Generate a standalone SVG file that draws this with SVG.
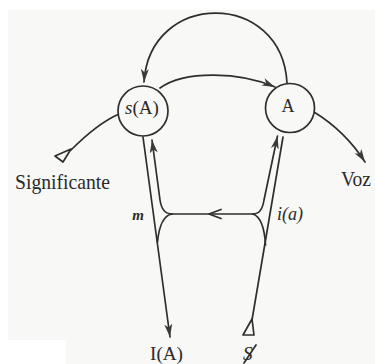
<svg xmlns="http://www.w3.org/2000/svg" width="375" height="364" viewBox="0 0 375 364">
  <style>
    .ln { fill: none; stroke: #2e2e2e; stroke-width: 1.7; stroke-linecap: round; stroke-linejoin: round; }
    .nd { fill: #f8f8f6; stroke: #2e2e2e; stroke-width: 1.7; }
    .tx { font-family: "Liberation Serif", "Times New Roman", serif; fill: #2a2a2a; }
    .open { fill: #f8f8f6; stroke: #2e2e2e; stroke-width: 1.7; stroke-linejoin: round; }
  </style>
  <defs>
    <marker id="arr" markerUnits="userSpaceOnUse" markerWidth="14" markerHeight="10" refX="13" refY="4.5" orient="auto-start-reverse" viewBox="0 0 14 10">
      <path d="M0,0.5 L13,4.5 L0,8.5 L3.5,4.5 Z" fill="#3a3a3a"/>
    </marker>
  </defs>
  <rect x="0" y="0" width="375" height="364" fill="#ffffff"/>
  <rect x="8" y="10" width="367" height="354" fill="#f8f8f6"/>
  <rect x="0" y="340" width="66" height="24" fill="#ffffff"/>

  <g id="connectors">
    <path class="ln" d="M287,83 C282,-10 150,-10 144,82" marker-end="url(#arr)"/>
    <path class="ln" d="M160,88 C185,70 240,72 275,87" marker-end="url(#arr)"/>
    <path class="ln" d="M71,150 C88,133 103,121 119,114"/>
    <polygon class="open" points="71,149 55,156 63,162"/>
    <path class="ln" d="M314,112 C327,120 347,134 365,162" marker-end="url(#arr)"/>
    <path class="ln" d="M143,137 L170,337" marker-end="url(#arr)"/>
    <path class="ln" d="M152,140 L160,200 Q162,214 172,214" marker-start="url(#arr)"/>
    <path class="ln" d="M172,214 L253,214"/>
    <path class="ln" d="M221,209.5 L209,214 L221,218.5"/>
    <path class="ln" d="M172,214 Q160,216 157.5,242"/>
    <path class="ln" d="M277.5,136 L264,200 Q262,214 253,214" marker-start="url(#arr)"/>
    <path class="ln" d="M253,214 Q264,218 265.5,245"/>
    <path class="ln" d="M283,137 L252,320"/>
    <polygon class="open" points="252,319 243,335 254,335"/>
  </g>

  <g id="node-sA">
    <circle class="nd" cx="143" cy="111" r="25"/>
    <text class="tx" x="142" y="114" font-size="19" text-anchor="middle"><tspan font-style="italic">s</tspan>(A)</text>
  </g>
  <g id="node-A">
    <circle class="nd" cx="290" cy="108" r="24.5"/>
    <text class="tx" x="288" y="112" font-size="18" text-anchor="middle">A</text>
  </g>
  <g id="node-significante">
    <text class="tx" x="15" y="189" font-size="22" textLength="95" lengthAdjust="spacingAndGlyphs">Significante</text>
  </g>
  <g id="node-voz">
    <text class="tx" x="341" y="186" font-size="21" textLength="30" lengthAdjust="spacingAndGlyphs">Voz</text>
  </g>
  <g id="node-IA">
    <text class="tx" x="150" y="360" font-size="19" textLength="33" lengthAdjust="spacingAndGlyphs">I(A)</text>
  </g>
  <g id="node-S">
    <text class="tx" x="243" y="360" font-size="19" font-style="italic">S</text>
    <path class="ln" d="M244,363 L256,345" stroke-width="1.3"/>
  </g>
  <g id="labels">
    <text class="tx" x="138" y="220" font-size="15" font-style="italic" font-weight="bold" text-anchor="middle">m</text>
    <text class="tx" x="277" y="220" font-size="18" font-style="italic">i(a)</text>
  </g>
</svg>
